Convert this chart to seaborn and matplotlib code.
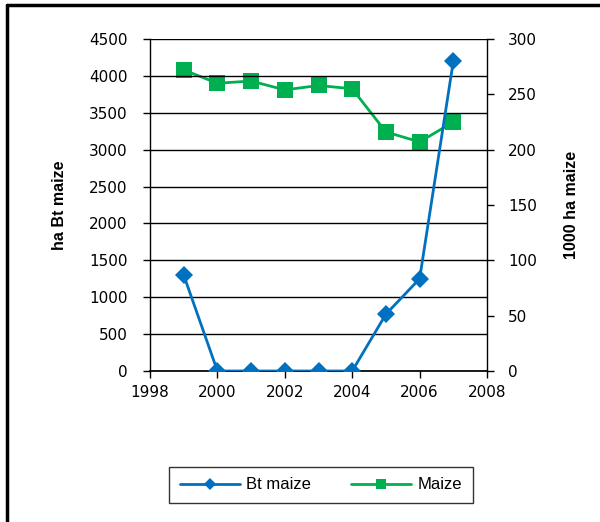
import matplotlib
matplotlib.use("Agg")
import matplotlib.pyplot as plt
import seaborn as sns
import pandas as pd
from matplotlib.lines import Line2D

years = [1999, 2000, 2001, 2002, 2003, 2004, 2005, 2006, 2007]
bt_maize = [1300, 0, 0, 0, 0, 0, 770, 1250, 4200]
maize = [272, 260, 262, 254, 258, 255, 216, 207, 225]
left_ticks = [0, 500, 1000, 1500, 2000, 2500, 3000, 3500, 4000, 4500]
right_ticks = [0, 50, 100, 150, 200, 250, 300]
x_ticks = [1998, 2000, 2002, 2004, 2006, 2008]

sns.set_theme(style="white")
plt.rcParams['font.family'] = ['DejaVu Sans']
plt.rcParams['text.color'] = 'black'

df = pd.DataFrame({"year": years, "bt": bt_maize, "maize": maize})

fig = plt.figure(figsize=(6, 5.22), dpi=100)
ax = fig.add_axes([0.25, 0.2893, 0.5617, 0.636])
ax2 = ax.twinx()

blue = "#0070C0"
green = "#00B050"

sns.lineplot(data=df, x="year", y="bt", ax=ax, color=blue, marker="D",
             markersize=9.5, markeredgewidth=0, linewidth=2, zorder=5)
sns.lineplot(data=df, x="year", y="maize", ax=ax2, color=green, marker="s",
             markersize=11, markeredgewidth=0, linewidth=2)
ax.set_zorder(ax2.get_zorder() + 1)
ax.patch.set_visible(False)

ax.set_xlim(1998, 2008)
ax.set_ylim(0, 4500)
ax2.set_ylim(0, 300)
ax.set_xticks(x_ticks)
ax.set_yticks(left_ticks)
ax2.set_yticks(right_ticks)
ax.yaxis.grid(True, color="black", linewidth=1)
ax.xaxis.grid(False)

for a in (ax, ax2):
    for s in a.spines.values():
        s.set_visible(False)
ax.spines['left'].set_visible(True)
ax.spines['left'].set_color('black')
ax.spines['left'].set_linewidth(1)
ax.spines['bottom'].set_visible(True)
ax.spines['bottom'].set_color('black')
ax2.spines['right'].set_visible(True)
ax2.spines['right'].set_color('black')
ax2.spines['right'].set_linewidth(1)

ax.tick_params(axis='both', direction='out', length=5, width=1, color='black',
               labelsize=11, labelcolor='black', left=True, bottom=True)
ax2.tick_params(axis='y', direction='out', length=5, width=1, color='black',
                labelsize=11, labelcolor='black', right=True)
ax.tick_params(axis='y', pad=11)
ax2.tick_params(axis='y', pad=10)
ax.tick_params(axis='x', pad=5)

ax.set_xlabel("")
ax.set_ylabel("")
ax2.set_ylabel("")
fig.text(0.10, 0.607, "ha Bt maize", rotation=90, ha='center', va='center', color='black',
         fontsize=11.5, fontweight='bold', family=['Liberation Sans'])
fig.text(0.953, 0.607, "1000 ha maize", rotation=90, ha='center', va='center', color='black',
         fontsize=11.5, fontweight='bold', family=['Liberation Sans'])

handles = [Line2D([], [], color=blue, marker="D", markersize=6, markeredgewidth=0, linewidth=2),
           Line2D([], [], color=green, marker="s", markersize=7, markeredgewidth=0, linewidth=2)]
leg = fig.legend(handles, ["Bt maize", "Maize"], loc='center', bbox_to_anchor=(0.535, 0.071),
                 ncol=2, frameon=True, fancybox=False, handlelength=3.6,
                 handletextpad=0.36, columnspacing=2.4, borderpad=0.65, borderaxespad=0,
                 prop={'family': 'Liberation Sans', 'size': 12})
for t in leg.get_texts():
    t.set_color('black')
leg.get_frame().set_edgecolor('black')
leg.get_frame().set_linewidth(1)

fig.add_artist(Line2D([7/600, 7/600], [0, 1 - 5/522], color='black', linewidth=2.5,
                      transform=fig.transFigure))
fig.add_artist(Line2D([7/600, 1], [1 - 5/522, 1 - 5/522], color='black', linewidth=2.5,
                      transform=fig.transFigure))

fig.savefig("out.png", dpi=100)
